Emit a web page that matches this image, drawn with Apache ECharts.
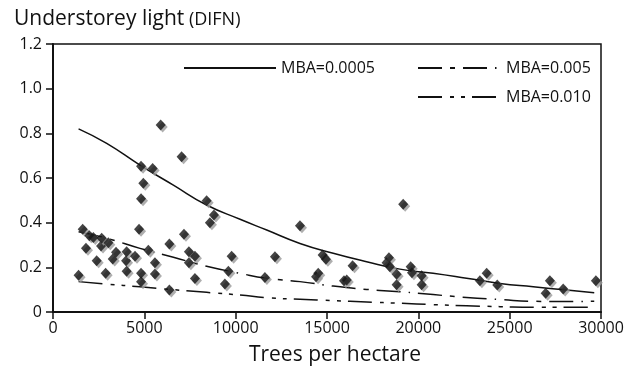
<!DOCTYPE html>
<html><head><meta charset="utf-8">
<script src="https://cdn.jsdelivr.net/npm/echarts@6/dist/echarts.min.js"></script>
<style>html,body{margin:0;padding:0;background:#fff}#c{width:636px;height:375px}</style>
</head><body><div id="c"></div>
<script>
// Observed data (trees per hectare, DIFN)
const obsDensity = [1400,1625,1805,1990,2210,2390,2630,2665,2880,3030,3270,3450,4000,4030,4030,4490,4710,4820,4820,4945,4820,4820,5220,5455,5580,5580,5895,6370,6370,7040,7170,7440,7440,7770,7770,8410,8590,8810,9410,9600,9780,11600,12150,13520,14400,14520,14760,14940,15930,16080,16400,18260,18390,18440,18810,18810,19170,19580,19650,20180,20180,23370,23740,24320,26970,27200,27930,29720];
const obsLight   = [0.164,0.37,0.285,0.341,0.334,0.23,0.295,0.33,0.173,0.31,0.237,0.267,0.23,0.27,0.182,0.25,0.37,0.653,0.507,0.576,0.173,0.136,0.277,0.643,0.22,0.17,0.837,0.304,0.098,0.695,0.348,0.27,0.22,0.25,0.15,0.498,0.40,0.434,0.125,0.183,0.25,0.155,0.247,0.386,0.158,0.173,0.255,0.236,0.14,0.143,0.207,0.22,0.243,0.203,0.169,0.122,0.482,0.203,0.176,0.162,0.122,0.14,0.173,0.121,0.084,0.14,0.103,0.14];

// Model curves
const curveDensity = [1400,2940,4760,6590,8410,10240,11700,13520,15340,17170,18990,20810,22640,24470,26290,28120,29630];
const mba0005 = [0.82,0.755,0.658,0.568,0.479,0.415,0.367,0.307,0.263,0.225,0.192,0.173,0.151,0.128,0.113,0.098,0.086];
const mba005  = [0.359,0.33,0.285,0.245,0.205,0.173,0.151,0.136,0.116,0.101,0.091,0.078,0.065,0.056,0.048,0.047,0.048];
const mba010  = [0.136,0.125,0.113,0.1,0.088,0.076,0.064,0.057,0.051,0.045,0.039,0.033,0.028,0.024,0.021,0.021,0.021];

const seriesNames = ['MBA=0.0005','MBA=0.005','MBA=0.010'];
const yTickLabels = ['0','0.2','0.4','0.6','0.8','1.0','1.2'];
const xTickLabels = ['0','5000','10000','15000','20000','25000','30000'];

const FONT = 'Open Sans';
const pair = (xs, ys) => xs.map((x, i) => [x, ys[i]]);
const legendText = {fontFamily: FONT, fontSize: 16, color: '#111'};
const legendBase = {padding: 0, itemHeight: 14, itemStyle: {opacity: 0}, textStyle: legendText};

const chart = echarts.init(document.getElementById('c'), null, {renderer: 'canvas'});
chart.setOption({
  animation: false,
  backgroundColor: '#fff',
  textStyle: {fontFamily: FONT, color: '#111'},
  title: {
    text: '{a|Understorey light} {b|(DIFN)}',
    left: 9, top: 4,
    textStyle: {rich: {
      a: {fontFamily: FONT, fontSize: 21, fontWeight: 'normal', color: '#111'},
      b: {fontFamily: FONT, fontSize: 18, fontWeight: 'normal', color: '#111'}
    }}
  },
  legend: [
    Object.assign({data: [seriesNames[0]], left: 183, top: 60, itemWidth: 92}, legendBase),
    Object.assign({data: [seriesNames[1]], left: 417, top: 60, itemWidth: 83}, legendBase),
    Object.assign({data: [seriesNames[2]], left: 417, top: 89, itemWidth: 83}, legendBase)
  ],
  grid: {left: 53, right: 35, top: 44, bottom: 63, show: true, borderColor: '#111', borderWidth: 1.5, backgroundColor: 'transparent'},
  xAxis: {
    type: 'value', min: 0, max: 30000, interval: 5000,
    name: 'Trees per hectare', nameLocation: 'middle', nameGap: 33,
    nameTextStyle: {fontFamily: FONT, fontSize: 21, color: '#111', padding: [0,0,0,16]},
    axisLine: {show: true, lineStyle: {color: '#111', width: 2}},
    axisTick: {show: true, inside: false, length: 7, lineStyle: {color: '#111', width: 1.5}},
    axisLabel: {fontFamily: FONT, fontSize: 16, color: '#111', margin: 8,
      formatter: v => xTickLabels[Math.round(v / 5000)] ?? ''},
    splitLine: {show: false}
  },
  yAxis: {
    type: 'value', min: 0, max: 1.2, interval: 0.2,
    axisLine: {show: true, lineStyle: {color: '#111', width: 2}},
    axisTick: {show: true, inside: false, length: 7, lineStyle: {color: '#111', width: 1.5}},
    axisLabel: {fontFamily: FONT, fontSize: 16, color: '#111', margin: 11,
      formatter: v => yTickLabels[Math.round(v / 0.2)] ?? ''},
    splitLine: {show: false}
  },
  series: [
    {name: 'observed', type: 'scatter', data: pair(obsDensity, obsLight),
     symbol: 'diamond', symbolSize: [10, 11], z: 3,
     itemStyle: {color: '#151515', shadowColor: '#9a9a9a', shadowBlur: 0, shadowOffsetX: 2, shadowOffsetY: 2}},
    {name: seriesNames[0], type: 'line', data: pair(curveDensity, mba0005), smooth: true, symbol: 'none',
     lineStyle: {color: '#111', width: 1.5, type: 'solid'}, itemStyle: {color: '#111'}},
    {name: seriesNames[1], type: 'line', data: pair(curveDensity, mba005), smooth: true, symbol: 'none',
     lineStyle: {color: '#111', width: 1.5, type: [24, 8, 5, 8, 24, 8, 1.5, 8]}, itemStyle: {color: '#111'}},
    {name: seriesNames[2], type: 'line', data: pair(curveDensity, mba010), smooth: true, symbol: 'none',
     lineStyle: {color: '#111', width: 1.5, type: [24, 8, 4, 7, 4, 7]}, itemStyle: {color: '#111'}}
  ]
});
</script>
</body></html>
